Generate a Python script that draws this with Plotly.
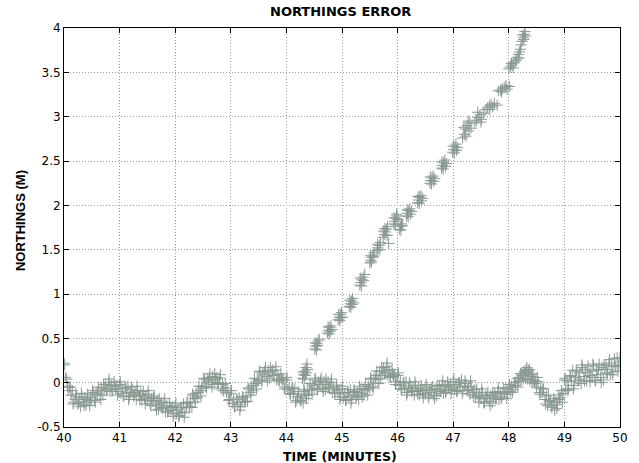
import numpy as np
import plotly.graph_objects as go

# ---------------- data ----------------
# baseline error, track A: sampled every 0.025 min from 40.000 to 50.000
base_t = np.round(np.arange(40.0, 50.0001, 0.025), 4)
base_y = [
    0.22, 0.06, 0.04, -0.09, -0.05, -0.14, -0.09, -0.22, -0.19, -0.16, -0.24, -0.19, -0.27, -0.16, -0.22, -0.17, -0.25, -0.13, -0.20, -0.17,
    -0.20, -0.11, -0.20, -0.12, -0.13, -0.05, -0.14, -0.06, -0.14, -0.06, -0.02, -0.08, 0.00, -0.10, -0.03, -0.08, 0.01, -0.07, -0.03, -0.10,
    -0.02, -0.12, -0.07, -0.15, -0.06, -0.12, -0.04, -0.16, -0.11, -0.08, -0.15, -0.11, -0.19, -0.09, -0.15, -0.12, -0.20, -0.10, -0.18, -0.16,
    -0.20, -0.13, -0.24, -0.18, -0.21, -0.15, -0.26, -0.20, -0.30, -0.24, -0.22, -0.29, -0.22, -0.33, -0.26, -0.32, -0.23, -0.31, -0.27, -0.35,
    -0.26, -0.35, -0.30, -0.37, -0.28, -0.33, -0.24, -0.34, -0.28, -0.23, -0.28, -0.22, -0.28, -0.15, -0.18, -0.12, -0.17, -0.04, -0.09, -0.04,
    -0.06, 0.04, -0.04, 0.04, 0.02, 0.10, 0.00, 0.07, -0.02, 0.04, 0.06, -0.01, 0.05, -0.07, -0.02, -0.09, -0.01, -0.11, -0.09, -0.19,
    -0.12, -0.23, -0.19, -0.27, -0.19, -0.25, -0.17, -0.27, -0.22, -0.17, -0.22, -0.15, -0.21, -0.07, -0.11, -0.04, -0.09, 0.05, -0.01, 0.04,
    0.02, 0.12, 0.03, 0.11, 0.09, 0.17, 0.07, 0.14, 0.05, 0.12, 0.14, 0.08, 0.14, 0.03, 0.09, 0.03, 0.10, 0.02, 0.04, -0.05,
    0.03, -0.08, -0.05, -0.13, -0.06, -0.13, -0.07, -0.20, -0.16, -0.13, -0.21, -0.16, -0.23, -0.10, -0.14, -0.08, -0.14, -0.01, -0.08, -0.03,
    -0.06, 0.03, -0.07, 0.01, -0.02, 0.05, -0.06, 0.01, -0.08, -0.02, 0.01, -0.07, 0.00, -0.11, -0.05, -0.11, -0.03, -0.11, -0.08, -0.16,
    -0.07, -0.17, -0.12, -0.20, -0.11, -0.16, -0.08, -0.19, -0.14, -0.10, -0.17, -0.11, -0.19, -0.07, -0.12, -0.07, -0.14, -0.02, -0.08, -0.04,
    -0.06, 0.04, -0.04, 0.05, 0.04, 0.13, 0.04, 0.13, 0.05, 0.13, 0.17, 0.11, 0.18, 0.08, 0.14, 0.07, 0.15, 0.07, 0.09, 0.01,
    0.08, -0.03, 0.01, -0.08, 0.00, -0.06, 0.01, -0.11, -0.06, -0.03, -0.10, -0.06, -0.14, -0.03, -0.10, -0.06, -0.14, -0.03, -0.12, -0.09,
    -0.13, -0.05, -0.15, -0.08, -0.11, -0.04, -0.14, -0.07, -0.15, -0.08, -0.04, -0.10, -0.02, -0.12, -0.04, -0.09, 0.01, -0.06, -0.02, -0.08,
    0.01, -0.08, -0.02, -0.09, 0.00, -0.05, 0.03, -0.09, -0.04, -0.01, -0.09, -0.05, -0.13, -0.04, -0.11, -0.08, -0.17, -0.07, -0.16, -0.14,
    -0.18, -0.11, -0.22, -0.15, -0.18, -0.11, -0.21, -0.14, -0.23, -0.16, -0.12, -0.18, -0.10, -0.19, -0.11, -0.16, -0.06, -0.12, -0.07, -0.13,
    -0.05, -0.10, -0.04, -0.08, 0.00, -0.03, 0.05, 0.01, 0.06, 0.10, 0.08, 0.13, 0.11, 0.17, 0.14, 0.15, 0.07, 0.09, 0.03, 0.02,
    -0.05, 0.01, -0.11, -0.06, -0.11, -0.07, -0.19, -0.15, -0.26, -0.21, -0.20, -0.28, -0.22, -0.31, -0.22, -0.25, -0.14, -0.17, -0.09, -0.12,
    0.03, -0.08, 0.02, -0.07, 0.08, 0.01, 0.14, -0.03, 0.06, 0.13, 0.02, 0.11, -0.01, 0.17, 0.07, 0.15, 0.02, 0.19, 0.08, 0.13,
    0.06, 0.19, 0.03, 0.14, 0.09, 0.21, 0.06, 0.17, 0.03, 0.15, 0.19, 0.11, 0.22, 0.09, 0.19, 0.12, 0.27, 0.18, 0.28, 0.20,
    0.28,
]

# baseline error, track B: sampled every 0.05 min from 40.0125
base2_t = np.round(np.arange(40.0125, 49.99, 0.05), 4)
base2_y = [
    0.20, -0.04, -0.05, -0.24, -0.13, -0.23, -0.12, -0.26, -0.19, -0.26,
    -0.09, -0.22, -0.09, -0.19, -0.02, -0.08, 0.04, -0.10, -0.04, -0.14,
    0.01, -0.15, -0.06, -0.19, -0.05, -0.14, -0.04, -0.19, -0.14, -0.24,
    -0.09, -0.26, -0.17, -0.31, -0.18, -0.28, -0.18, -0.33, -0.28, -0.38,
    -0.23, -0.38, -0.28, -0.39, -0.22, -0.27, -0.13, -0.22, -0.11, -0.15,
    0.05, -0.06, 0.06, -0.05, 0.10, 0.00, 0.09, -0.09, -0.06, -0.20,
    -0.09, -0.27, -0.19, -0.31, -0.16, -0.21, -0.06, -0.14, -0.03, -0.07,
    0.13, 0.01, 0.13, 0.02, 0.17, 0.08, 0.18, 0.02, 0.05, -0.07,
    0.06, -0.12, -0.06, -0.22, -0.10, -0.20, -0.08, -0.18, -0.08, -0.13,
    0.05, -0.08, 0.02, -0.10, 0.04, -0.05, 0.04, -0.12, -0.08, -0.19,
    -0.04, -0.20, -0.11, -0.23, -0.08, -0.15, -0.04, -0.16, -0.08, -0.14,
    0.05, -0.06, 0.08, -0.01, 0.17, 0.10, 0.22, 0.06, 0.10, -0.02,
    0.11, -0.07, 0.00, -0.14, 0.00, -0.09, 0.01, -0.13, -0.08, -0.17,
    -0.02, -0.17, -0.07, -0.18, -0.03, -0.10, 0.02, -0.11, -0.04, -0.12,
    0.04, -0.10, 0.00, -0.12, 0.02, -0.08, 0.02, -0.15, -0.11, -0.22,
    -0.07, -0.23, -0.14, -0.26, -0.11, -0.18, -0.06, -0.18, -0.11, -0.18,
    -0.02, -0.11, 0.00, -0.05, 0.10, 0.08, 0.15, 0.12, 0.10, -0.01,
    0.06, -0.13, -0.07, -0.24, -0.14, -0.26, -0.18, -0.29, -0.19, -0.22,
    0.05, -0.09, 0.07, -0.07, 0.14, 0.04, 0.20, 0.02, 0.11, 0.01,
    0.21, 0.02, 0.15, 0.00, 0.20, 0.10, 0.26, 0.09, 0.19, 0.13,
]

# lower branch of the loop near 48.3 min
loop_t = [48.22, 48.26, 48.30, 48.34, 48.38, 48.42]
loop_y = [0.02, 0.04, 0.05, 0.04, 0.02, 0.00]

# diverging solution (clusters of fixes)
rise_t = [
    44.29, 44.31, 44.33, 44.35, 44.37, 44.32, 44.36, 44.34, 44.30, 44.38,
    44.51, 44.53, 44.55, 44.57, 44.59, 44.54, 44.56, 44.52,
    44.74, 44.76, 44.78, 44.80, 44.82, 44.77, 44.79, 44.75,
    44.93, 44.95, 44.97, 44.99, 45.01, 44.96, 44.98, 44.94,
    45.13, 45.15, 45.17, 45.19, 45.21, 45.16, 45.18, 45.14,
    45.32, 45.34, 45.36, 45.38, 45.41, 45.35, 45.39, 45.33,
    45.50, 45.52, 45.54, 45.56, 45.58, 45.53, 45.57, 45.51,
    45.63, 45.65, 45.67, 45.69, 45.64, 45.68,
    45.84,
    45.74, 45.76, 45.78, 45.80, 45.82, 45.77, 45.81, 45.75,
    45.93, 45.95, 45.97, 45.99, 46.01, 45.96, 45.98, 45.94,
    46.03, 46.05, 46.07, 46.09, 46.06,
    46.16, 46.18, 46.20, 46.22, 46.25, 46.19, 46.23, 46.17,
    46.36, 46.38, 46.40, 46.42, 46.45, 46.39, 46.43, 46.37,
    46.58, 46.60, 46.62, 46.64, 46.67, 46.61, 46.65, 46.59,
    46.79, 46.81, 46.83, 46.85, 46.88, 46.82, 46.86, 46.80,
    46.99, 47.01, 47.03, 47.05, 47.08, 47.02, 47.06, 47.00,
    47.17, 47.20, 47.22, 47.25, 47.28, 47.30, 47.23, 47.27, 47.19, 47.32,
    47.39, 47.42, 47.45, 47.48, 47.51, 47.55, 47.44, 47.50,
    47.59, 47.62, 47.65, 47.68, 47.71, 47.74, 47.66, 47.79,
    47.81, 47.85, 47.89, 47.93, 47.97, 48.01, 47.87, 47.95,
    48.00, 48.03, 48.06, 48.09, 48.12, 48.05, 48.08,
    48.13, 48.15, 48.17, 48.19, 48.21, 48.18,
    48.22, 48.24, 48.26, 48.28, 48.29, 48.25, 48.27, 48.30,
]
rise_y = [
    0.05, 0.09, 0.13, 0.17, 0.21, 0.04, 0.11, 0.08, 0.12, 0.15,
    0.38, 0.41, 0.44, 0.47, 0.49, 0.37, 0.42, 0.45,
    0.56, 0.59, 0.62, 0.64, 0.60, 0.55, 0.58, 0.63,
    0.71, 0.74, 0.77, 0.79, 0.74, 0.70, 0.73, 0.77,
    0.86, 0.89, 0.92, 0.95, 0.90, 0.85, 0.88, 0.93,
    1.10, 1.13, 1.16, 1.19, 1.22, 1.09, 1.15, 1.18,
    1.35, 1.38, 1.41, 1.44, 1.47, 1.36, 1.42, 1.43,
    1.49, 1.52, 1.55, 1.58, 1.56, 1.50,
    1.57,
    1.64, 1.67, 1.70, 1.73, 1.76, 1.74, 1.66, 1.71,
    1.79, 1.82, 1.85, 1.88, 1.84, 1.78, 1.90, 1.86,
    1.73, 1.76, 1.79, 1.77, 1.72,
    1.88, 1.91, 1.94, 1.96, 1.93, 1.87, 1.90, 1.95,
    2.03, 2.06, 2.09, 2.11, 2.08, 2.02, 2.05, 2.10,
    2.25, 2.28, 2.31, 2.33, 2.30, 2.24, 2.27, 2.32,
    2.42, 2.45, 2.48, 2.51, 2.47, 2.41, 2.44, 2.49,
    2.60, 2.63, 2.66, 2.69, 2.65, 2.59, 2.62, 2.67,
    2.76, 2.80, 2.86, 2.90, 2.84, 2.93, 2.78, 2.95, 2.88, 2.87,
    2.93, 2.96, 2.99, 3.02, 2.97, 3.04, 3.05, 2.94,
    3.08, 3.10, 3.12, 3.14, 3.11, 3.15, 3.08, 3.13,
    3.29, 3.30, 3.32, 3.33, 3.31, 3.34, 3.28, 3.35,
    3.54, 3.56, 3.58, 3.61, 3.63, 3.60, 3.55,
    3.64, 3.67, 3.70, 3.73, 3.76, 3.66,
    3.81, 3.85, 3.89, 3.93, 3.96, 3.92, 3.87, 3.91,
]

x_ticks = [40, 41, 42, 43, 44, 45, 46, 47, 48, 49, 50]
x_labels = ["40", "41", "42", "43", "44", "45", "46", "47", "48", "49", "50"]
y_ticks = [-0.5, 0, 0.5, 1, 1.5, 2, 2.5, 3, 3.5, 4]
y_labels = ["-0.5", "0", "0.5", "1", "1.5", "2", "2.5", "3", "3.5", "4"]

TITLE = "NORTHINGS ERROR"
X_TITLE = "TIME (MINUTES)"
Y_TITLE = "NORTHINGS (M)"

# ---------------- figure ----------------
MARK = "#8a9a91"
marker = dict(symbol="cross-thin", size=8, color=MARK, line=dict(color=MARK, width=1))

fig = go.Figure()
for t, y in ((base_t, base_y), (base2_t, base2_y), (loop_t, loop_y), (rise_t, rise_y)):
    fig.add_trace(go.Scatter(x=t, y=y, mode="markers", marker=marker, showlegend=False,
                             hoverinfo="skip"))

wide_font = "DejaVu Sans, Verdana, sans-serif"
arial = "Liberation Sans, Arial, sans-serif"
axis_common = dict(
    showline=True, linecolor="black", linewidth=1, mirror="ticks",
    ticks="inside", ticklen=5, tickcolor="black",
    showgrid=True, gridcolor="#9a9a9a", griddash="1px,2px", gridwidth=1,
    zeroline=False, automargin=False,
    tickfont=dict(family=wide_font, size=12, color="black"),
)

fig.update_layout(
    width=639, height=463,
    margin=dict(l=64, r=19, t=28, b=36, autoexpand=False),
    paper_bgcolor="white", plot_bgcolor="white",
    xaxis=dict(range=[40, 50], tickvals=x_ticks, ticktext=x_labels, **axis_common),
    yaxis=dict(range=[-0.5, 4], tickvals=y_ticks, ticktext=y_labels, **axis_common),
    annotations=[
        dict(text="<b>" + TITLE + "</b>", xref="paper", yref="paper", x=0.498, y=1,
             xanchor="center", yanchor="middle", yshift=17, showarrow=False,
             font=dict(family=wide_font, size=13, color="black")),
        dict(text="<b>" + X_TITLE + "</b>", xref="paper", yref="paper", x=0.496, y=0,
             xanchor="center", yanchor="middle", yshift=-29, showarrow=False,
             font=dict(family=wide_font, size=12.5, color="black")),
        dict(text="<b>" + Y_TITLE + "</b>", xref="paper", yref="paper", x=0, y=0.516,
             xanchor="center", yanchor="middle", xshift=-44, textangle=-90, showarrow=False,
             font=dict(family=arial, size=13, color="black")),
    ],
)

# remove the page's default 8px body margin so the figure fills the window
fig.write_html("out.html", config={"displayModeBar": False},
               post_script="document.body.style.margin='0';document.body.style.overflow='hidden';")
